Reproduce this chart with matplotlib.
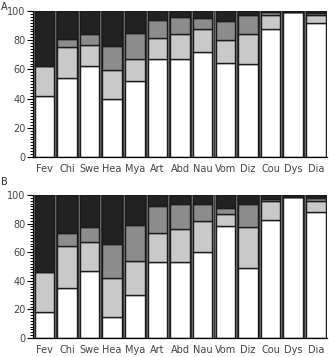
import numpy as np
import matplotlib
matplotlib.use("Agg")
import matplotlib.pyplot as plt
from matplotlib.ticker import MultipleLocator

symptoms = ["Fev", "Chi", "Swe", "Hea", "Mya", "Art", "Abd", "Nau", "Vom", "Diz", "Cou", "Dys", "Dia"]

# cumulative tops of each stacked segment (white, light, mid, black=100)
a_white = [42, 54, 62.5, 40, 52, 67, 67, 72, 64.5, 63.5, 88, 99, 91.5]
a_light = [62.5, 75, 77, 59.5, 67, 81.5, 84, 87.5, 80, 84.5, 97.5, 99, 97]
a_mid = [62.5, 81, 84.5, 76, 85, 94, 96, 95.5, 93, 97, 99.3, 99, 98.5]

b_white = [18.5, 35, 47, 14.5, 30, 53, 53, 60, 78, 49, 82.5, 98.5, 88]
b_light = [46.5, 64, 67, 42, 53.5, 73.5, 76, 81.5, 87, 77.5, 96, 98.5, 96]
b_mid = [46.5, 73.5, 77.5, 65.5, 79, 92, 94, 93.5, 91, 94, 97.3, 98.5, 97.7]

colors = ["white", "#c9c9c9", "#8c8c8c", "#222222"]


def draw(ax, white, light, mid):
    x = np.arange(len(symptoms))
    ax.bar(x, [100] * len(x), width=1.0, color="#7a7a7a", edgecolor="#333333", linewidth=0.6, zorder=1)
    tops = [np.array(white), np.array(light), np.array(mid), np.full(len(x), 100.0)]
    bottom = np.zeros(len(x))
    for top, c in zip(tops, colors):
        h = top - bottom
        ax.bar(x, h, bottom=bottom, width=0.86, color=c, edgecolor="#1a1a1a", linewidth=1.0, zorder=2)
        bottom = top
    ax.set_xlim(-0.5, len(x) - 0.5)
    ax.set_ylim(0, 100)
    ax.set_xticks(x)
    ax.set_xticklabels(symptoms, fontsize=7, color="#444444")
    ax.tick_params(axis="x", length=0, pad=5)
    ax.set_yticks(range(0, 101, 20))
    ax.yaxis.set_minor_locator(MultipleLocator(2))
    ax.tick_params(axis="y", which="major", length=4, width=0.8, labelsize=7, labelcolor="#444444", pad=1.5)
    ax.tick_params(axis="y", which="minor", length=2.2, width=0.7)
    for s in ["top", "right"]:
        ax.spines[s].set_visible(False)
    ax.spines["left"].set_linewidth(0.9)
    ax.spines["bottom"].set_linewidth(0.9)


fig = plt.figure(figsize=(3.29, 3.57), dpi=100)
ax_a = fig.add_axes([0.1003, 0.5602, 0.894, 0.409])
ax_b = fig.add_axes([0.1003, 0.0532, 0.894, 0.4006])
draw(ax_a, a_white, a_light, a_mid)
draw(ax_b, b_white, b_light, b_mid)
fig.text(0.003, 0.995, "A", fontsize=7, color="#333333", va="top")
fig.text(0.003, 0.503, "B", fontsize=7, color="#333333", va="top")

fig.savefig("out.png", dpi=100)
